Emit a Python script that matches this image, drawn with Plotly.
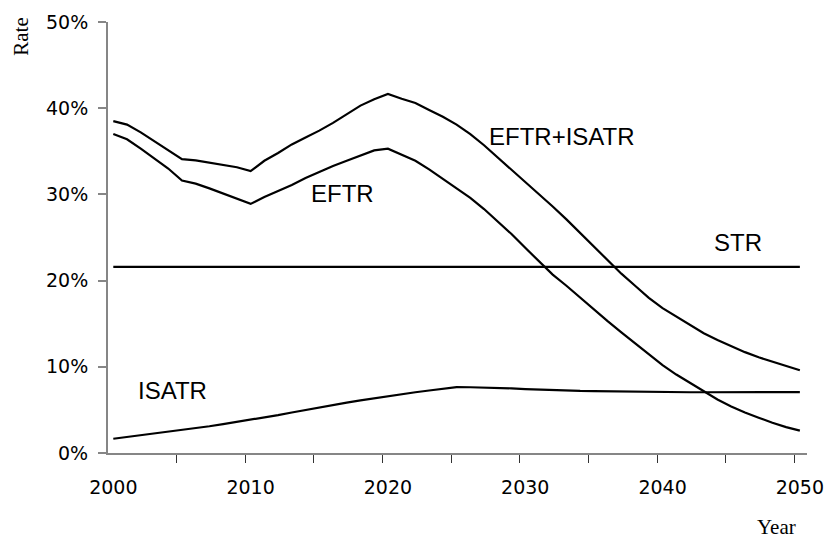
import plotly.graph_objects as go

# Tax rates by year, in percent
years = list(range(2000, 2051))

eftr_isatr = [38.5, 38.1, 37.2, 36.2, 35.2, 34.1, 33.95, 33.7, 33.45, 33.15,
              32.7, 33.9, 34.8, 35.8, 36.6, 37.4, 38.3, 39.3, 40.3, 41.05,
              41.65, 41.1, 40.6, 39.8, 39.0, 38.1, 37.0, 35.7, 34.3, 32.9,
              31.5, 30.0, 28.6, 27.1, 25.5, 23.9, 22.3, 20.8, 19.4, 18.0,
              16.8, 15.8, 14.8, 13.9, 13.1, 12.4, 11.7, 11.1, 10.6, 10.1,
              9.6]

eftr = [37.0, 36.4, 35.3, 34.2, 33.0, 31.6, 31.25, 30.7, 30.1, 29.5,
        28.9, 29.7, 30.4, 31.1, 31.9, 32.6, 33.3, 33.9, 34.5, 35.1,
        35.3, 34.6, 33.9, 32.9, 31.8, 30.7, 29.6, 28.3, 26.9, 25.4,
        23.8, 22.2, 20.7, 19.4, 18.0, 16.6, 15.3, 14.0, 12.7, 11.4,
        10.2, 9.1, 8.1, 7.1, 6.2, 5.4, 4.7, 4.1, 3.5, 3.0,
        2.6]

isatr = [1.65, 1.85, 2.05, 2.25, 2.45, 2.7, 2.9, 3.1, 3.35, 3.6,
         3.9, 4.1, 4.4, 4.7, 5.0, 5.3, 5.6, 5.85, 6.1, 6.35,
         6.6, 6.8, 7.05, 7.25, 7.45, 7.65, 7.63, 7.6, 7.55, 7.5,
         7.42, 7.35, 7.3, 7.25, 7.2, 7.18, 7.15, 7.12, 7.1, 7.08,
         7.07, 7.06, 7.05, 7.05, 7.05, 7.05, 7.06, 7.06, 7.07, 7.07,
         7.07]

str_years = [2000, 2050]
str_rate = [21.6, 21.6]

x_labels = [2000, 2010, 2020, 2030, 2040, 2050]
y_ticks = [0, 10, 20, 30, 40, 50]
y_labels = ["0%", "10%", "20%", "30%", "40%", "50%"]

AXIS = "#868686"
LINE = dict(color="black", width=2.2)
TICK_FONT = dict(family="DejaVu Sans, Verdana", size=19, color="black")

fig = go.Figure()
fig.add_trace(go.Scatter(x=years, y=eftr_isatr, mode="lines", line=LINE))
fig.add_trace(go.Scatter(x=years, y=eftr, mode="lines", line=LINE))
fig.add_trace(go.Scatter(x=str_years, y=str_rate, mode="lines", line=LINE))
fig.add_trace(go.Scatter(x=years, y=isatr, mode="lines", line=LINE))

# series labels
lbl_font = dict(family="Liberation Sans, Arial", size=24, color="black")
for text, x, y in [("EFTR", 2016.7, 30.1), ("EFTR+ISATR", 2032.7, 36.7),
                   ("STR", 2045.5, 24.4), ("ISATR", 2004.3, 7.3)]:
    fig.add_annotation(x=x, y=y, text=text, showarrow=False, font=lbl_font,
                       xanchor="center", yanchor="middle")

# axis titles sit in odd spots, like the original
ttl_font = dict(family="Liberation Serif, Times New Roman", size=21, color="black")
fig.add_annotation(x=-0.125, y=0.965, xref="paper", yref="paper", text="Rate",
                   textangle=-90, showarrow=False, font=ttl_font,
                   xanchor="center", yanchor="middle")
fig.add_annotation(x=0.956, y=-0.204, xref="paper", yref="paper", text="Year",
                   showarrow=False, font=ttl_font,
                   xanchor="center", yanchor="bottom")

fig.update_layout(
    width=825, height=542,
    paper_bgcolor="white", plot_bgcolor="white",
    showlegend=False,
    margin=dict(l=108, r=18, t=22, b=89),
    font=TICK_FONT,
    xaxis=dict(
        range=[1999.614, 2050.52], automargin=False,
        tickvals=x_labels, ticks="", showgrid=False, zeroline=False,
        showline=True, linecolor=AXIS, linewidth=2,
        tickfont=TICK_FONT, ticklabelstandoff=16,
        minor=dict(tickvals=[y - 0.4 for y in range(2000, 2051, 5)],
                   ticks="outside", ticklen=8, tickcolor="#333333", tickwidth=1,
                   showgrid=False),
    ),
    yaxis=dict(
        range=[0, 50], tickvals=y_ticks, ticktext=y_labels, automargin=False,
        ticks="outside", ticklen=8, tickcolor=AXIS, tickwidth=2,
        showgrid=False, zeroline=False,
        showline=True, linecolor=AXIS, linewidth=2,
        tickfont=TICK_FONT, ticklabelstandoff=6,
    ),
)

# drop the default page margin so the figure fills the window exactly
fig.write_html("out.html",
               config={"displayModeBar": False},
               post_script="document.body.style.margin='0';"
                           "document.body.style.overflow='hidden';")
